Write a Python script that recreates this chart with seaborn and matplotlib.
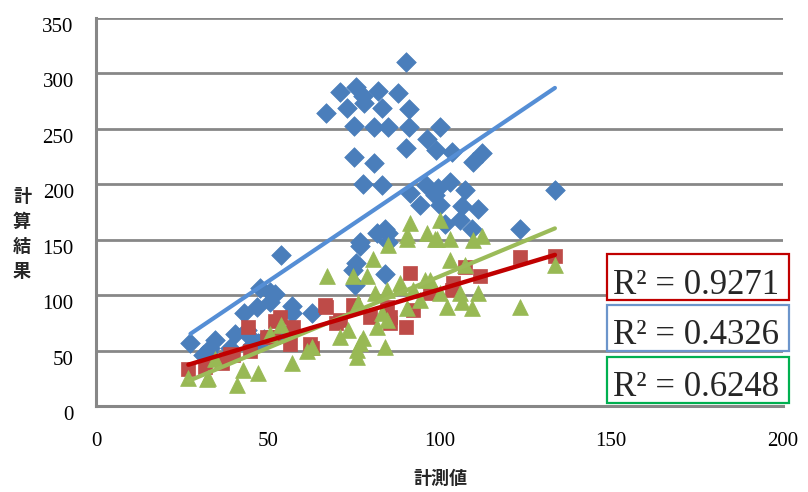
import numpy as np
import pandas as pd
import matplotlib
matplotlib.use("Agg")
import matplotlib.pyplot as plt
from matplotlib.patches import Rectangle
from matplotlib.transforms import ScaledTranslation
import seaborn as sns

# ---- data ----
blue_x = [27.5, 31.2, 32.7, 33.2, 34.6, 40.5, 43.0, 43.9, 44.8, 47.3, 46.8, 47.7, 50.6, 50.6, 52.0,
          54.0, 57.0, 57.0, 63.0, 74.9, 75.4, 75.8, 76.9, 76.9, 84.0, 85.0, 85.0, 81.7, 84.0,
          67.0, 71.0, 73.0, 75.7, 77.8, 78.0, 82.2, 83.2, 88.0, 90.2, 91.2, 75.0, 81.0, 85.0,
          91.2, 96.3, 90.2, 99.0, 75.0, 81.0, 77.8, 83.2, 91.4, 96.0, 98.7, 94.3, 100.0, 103.5,
          112.3, 109.8, 133.6, 99.7, 103.0, 107.4, 100.0, 106.5, 111.3, 106.0, 109.4, 123.4, 101.6,
          39.0, 45.5, 49.0, 55.0]
blue_y = [57, 46, 49, 52, 59.5, 65, 84, 68.5, 62, 56.5, 89.5, 106, 103, 94, 101,
          136, 90, 84, 84, 123, 109, 129, 148, 144, 119, 148, 156, 156, 160,
          264, 283, 269, 288, 280, 273, 284, 269, 282, 310, 268, 253, 252, 252,
          252, 241, 233, 231, 225, 219, 200, 199, 192, 199, 190, 181, 252, 229,
          228, 220, 195, 197, 202, 195, 181, 180, 178, 168, 160, 160, 164,
          52, 55, 60, 64]

red_x = [26.9, 31.7, 36.6, 39.0, 40.0, 44.3, 44.8, 49.7, 51.6, 52.1, 53.6, 57.4, 56.5, 62.3, 63.0,
         66.7, 67.0, 70.0, 71.0, 74.9, 79.8, 84.6, 85.6, 85.6, 90.2, 91.4, 92.4, 97.2, 103.5,
         104.0, 107.4, 111.8, 123.4, 133.6]
red_y = [33, 35, 38.5, 47, 46, 71, 50, 62, 62, 77, 80, 71, 56, 56, 52,
         91, 89.5, 74.5, 77.5, 91, 80.5, 89.5, 75, 80.5, 71.5, 119.6, 86.5, 101.6, 104.6,
         110.6, 125.6, 117, 134, 135]

green_x = [26.9, 32.2, 32.7, 34.6, 41.0, 42.9, 47.3, 50.6, 54.0, 57.0, 61.3, 62.8, 67.2, 71.0,
           73.4, 74.9, 75.9, 75.9, 76.4, 76.9, 77.8, 78.8, 80.7, 81.2, 81.7, 83.2, 84.1, 84.6,
           84.6, 85.1, 88.5, 88.5, 90.4, 90.4, 90.4, 91.4, 92.4, 94.3, 95.8, 96.3, 97.2, 98.7,
           99.2, 100.0, 100.1, 102.1, 103.0, 103.0, 106.0, 106.5, 107.4, 109.4, 109.8, 111.3,
           112.3, 123.4, 133.6]
green_y = [25, 24, 25, 42, 19, 32.5, 29.5, 65, 73, 38.5, 50, 53, 117, 62.5,
           68.5, 117, 44.5, 50.5, 92.6, 56.5, 61, 117, 133, 101.6, 71.5, 83.6, 53.5, 77.5,
           104.6, 145, 110.6, 107.6, 88, 154, 151, 165, 104.6, 95.6, 113.6, 156, 113.6, 151,
           151, 168, 101.6, 89.5, 131.6, 151, 101.6, 94, 127, 88, 150, 101.6,
           153, 89, 127]

x_ticks = [0, 50, 100, 150, 200]
y_ticks = [0, 50, 100, 150, 200, 250, 300, 350]
r2_labels = ["R² = 0.9271", "R² = 0.4326", "R² = 0.6248"]

blue = pd.DataFrame({"x": blue_x, "y": blue_y})
red = pd.DataFrame({"x": red_x, "y": red_y})
green = pd.DataFrame({"x": green_x, "y": green_y})

sns.set_style("white")
plt.rcParams["font.family"] = ["Liberation Serif", "DejaVu Sans"]

W, H = 808, 492
fig = plt.figure(figsize=(W / 100, H / 100), dpi=100)
L, R, T, B = 96, 783, 18, 406
ax = fig.add_axes([L / W, 1 - B / H, (R - L) / W, (B - T) / H])

grid_c = "#878787"
for yv in y_ticks[1:]:
    ax.axhline(yv, color=grid_c, lw=2.0, zorder=0)

sns.scatterplot(data=blue, x="x", y="y", marker="D", s=100, color="#4A7EBB",
                edgecolor="#4A7EBB", linewidth=0.5, ax=ax, zorder=2)
sns.scatterplot(data=red, x="x", y="y", marker="s", s=100, color="#BE4B48",
                edgecolor="#BE4B48", linewidth=0.5, ax=ax, zorder=2)
sns.scatterplot(data=green, x="x", y="y", marker="^", s=130, color="#98B954",
                edgecolor="#98B954", linewidth=0.5, ax=ax, zorder=2)

sns.regplot(data=blue, x="x", y="y", scatter=False, ci=None, ax=ax,
            line_kws={"color": "#558ED5", "lw": 3.0, "zorder": 3, "solid_capstyle": "round"})
sns.regplot(data=green, x="x", y="y", scatter=False, ci=None, ax=ax,
            line_kws={"color": "#9BBB59", "lw": 3.0, "zorder": 3, "solid_capstyle": "round"})
sns.regplot(data=red, x="x", y="y", scatter=False, ci=None, ax=ax,
            line_kws={"color": "#C00000", "lw": 3.2, "zorder": 4, "solid_capstyle": "round"})

ax.set_xlim(0, 200)
ax.set_ylim(0, 350)
ax.set_xticks(x_ticks)
ax.set_yticks(y_ticks)
ax.set_xticklabels([str(v) for v in x_ticks], fontsize=15)
ax.set_yticklabels([str(v) for v in y_ticks], fontsize=15)
ax.tick_params(axis="both", length=0, colors="black")
ax.tick_params(axis="x", pad=19)
ax.tick_params(axis="y", pad=16)
shift = ScaledTranslation(0, -7 / 100, fig.dpi_scale_trans)
for lab in ax.get_yticklabels():
    lab.set_transform(lab.get_transform() + shift)
ax.set_xlabel("")
ax.set_ylabel("")
for s in ["top", "right"]:
    ax.spines[s].set_visible(False)
for s in ["left", "bottom"]:
    ax.spines[s].set_color(grid_c)
    ax.spines[s].set_linewidth(2.2)

cjk = ["Noto Sans CJK JP", "DejaVu Sans"]
fig.text(440 / W, 1 - 478 / H, "計測値", family=cjk, fontsize=13, fontweight="bold",
         ha="center", va="center")
fig.text(22 / W, 1 - 234 / H, "計\n算\n結\n果", family=cjk, fontsize=13, fontweight="bold",
         ha="center", va="center", linespacing=1.4)

boxes = [(254, 300, "#C00000", 294), (305, 351, "#6C95CB", 344), (357, 403, "#00B050", 396)]
for (y0, y1, ec, base), lab in zip(boxes, r2_labels):
    fig.add_artist(Rectangle((607 / W, 1 - y1 / H), (789 - 607) / W, (y1 - y0) / H,
                             transform=fig.transFigure, facecolor="white", edgecolor=ec,
                             lw=1.6, zorder=10))
    fig.text(613 / W, 1 - base / H, lab, fontsize=25, ha="left", va="baseline",
             family=["Liberation Serif", "DejaVu Serif"], zorder=11)

fig.savefig("out.png", dpi=100)
